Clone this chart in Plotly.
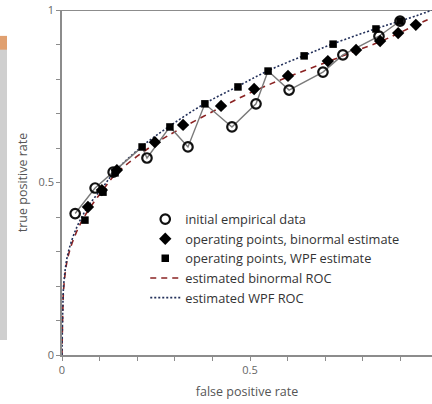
import plotly.graph_objects as go

# ---- data ----
emp_fpr = [0.035, 0.088, 0.136, 0.226, 0.335, 0.452, 0.516, 0.604, 0.694, 0.747, 0.843, 0.899]
emp_tpr = [0.410, 0.484, 0.530, 0.571, 0.603, 0.661, 0.728, 0.768, 0.820, 0.870, 0.924, 0.968]

# empirical polyline vertices (includes hidden vertices under the filled markers)
path_fpr = [0.035, 0.088, 0.136, 0.213, 0.226, 0.287, 0.335, 0.380, 0.452, 0.516, 0.548, 0.604, 0.694, 0.747, 0.843, 0.899]
path_tpr = [0.410, 0.484, 0.530, 0.603, 0.571, 0.661, 0.603, 0.728, 0.661, 0.728, 0.823, 0.768, 0.820, 0.870, 0.924, 0.968]

bin_fpr = [0.069, 0.106, 0.146, 0.247, 0.322, 0.423, 0.511, 0.601, 0.707, 0.782, 0.846, 0.894, 0.941]
bin_tpr = [0.429, 0.478, 0.536, 0.617, 0.667, 0.722, 0.771, 0.809, 0.852, 0.884, 0.910, 0.933, 0.957]

wpf_fpr = [0.061, 0.109, 0.141, 0.213, 0.287, 0.380, 0.468, 0.548, 0.644, 0.721, 0.835, 0.899]
wpf_tpr = [0.391, 0.472, 0.528, 0.603, 0.661, 0.728, 0.777, 0.823, 0.867, 0.901, 0.945, 0.968]

bin_roc_fpr = [0.0, 0.002, 0.005, 0.016, 0.040, 0.069, 0.106, 0.146, 0.247, 0.322, 0.423, 0.511, 0.601, 0.707, 0.782, 0.846, 0.894, 0.941, 0.984]
bin_roc_tpr = [0.0, 0.120, 0.200, 0.285, 0.360, 0.418, 0.474, 0.528, 0.612, 0.660, 0.718, 0.765, 0.806, 0.850, 0.882, 0.908, 0.932, 0.956, 0.978]

wpf_roc_fpr = [0.0, 0.002, 0.005, 0.016, 0.040, 0.069, 0.109, 0.141, 0.213, 0.287, 0.380, 0.468, 0.548, 0.644, 0.721, 0.835, 0.899, 0.950, 0.984]
wpf_roc_tpr = [0.0, 0.130, 0.210, 0.295, 0.372, 0.430, 0.487, 0.532, 0.605, 0.664, 0.729, 0.779, 0.824, 0.868, 0.902, 0.946, 0.968, 0.986, 1.0]

FONT = "Open Sans"
fig = go.Figure()

fig.add_trace(go.Scatter(x=bin_roc_fpr, y=bin_roc_tpr, mode="lines", line_shape="spline",
                         name="estimated binormal ROC",
                         line=dict(color="#8b2323", width=1.6, dash="6px,5px"), legendrank=4))
fig.add_trace(go.Scatter(x=wpf_roc_fpr, y=wpf_roc_tpr, mode="lines", line_shape="spline",
                         name="estimated WPF ROC",
                         line=dict(color="#23305a", width=1.6, dash="2px,2px"), legendrank=5))
fig.add_trace(go.Scatter(x=path_fpr, y=path_tpr, mode="lines", showlegend=False,
                         line=dict(color="#7a7a7a", width=1.4)))
fig.add_trace(go.Scatter(x=emp_fpr, y=emp_tpr, mode="markers", name="initial empirical data",
                         marker=dict(symbol="circle-open", size=9.5, color="#111",
                                     line=dict(width=2.2, color="#111")), legendrank=1))
fig.add_trace(go.Scatter(x=bin_fpr, y=bin_tpr, mode="markers", name="operating points, binormal estimate",
                         marker=dict(symbol="diamond", size=9.5, color="#000"), legendrank=2))
fig.add_trace(go.Scatter(x=wpf_fpr, y=wpf_tpr, mode="markers", name="operating points, WPF estimate",
                         marker=dict(symbol="square", size=7.5, color="#000"), legendrank=3))

fig.update_layout(
    width=432, height=404,
    margin=dict(l=62, r=0, t=10, b=49),
    paper_bgcolor="white", plot_bgcolor="white",
    font=dict(family=FONT, size=11, color="#555"),
    showlegend=True,
    legend=dict(x=0.225, y=0.437, xanchor="left", yanchor="top",
                bgcolor="rgba(0,0,0,0)", font=dict(size=12.8, color="#333"),
                tracegroupgap=0),
    xaxis=dict(range=[0, 0.984], showgrid=False, zeroline=False, automargin=False,
               showline=True, linecolor="#8c8c8c", linewidth=1.5,
               tickvals=[0, 0.5], ticktext=["0", "0.5"],
               ticks="outside", ticklen=4, tickcolor="#8c8c8c",
               minor=dict(tickvals=[0.1, 0.2, 0.3, 0.4, 0.6, 0.7, 0.8, 0.9],
                          ticks="outside", ticklen=4, tickcolor="#8c8c8c"),
               tickfont=dict(size=11, color="#666"),
               title=dict(text="false positive rate", font=dict(size=12.5, color="#555"), standoff=11)),
    yaxis=dict(range=[0, 1], showgrid=False, zeroline=False, automargin=False,
               showline=True, linecolor="#8c8c8c", linewidth=1.5,
               tickvals=[0, 0.5, 1], ticktext=["0", "0.5", "1"],
               ticks="outside", ticklen=4, tickcolor="#8c8c8c",
               minor=dict(tickvals=[0.1, 0.2, 0.3, 0.4, 0.6, 0.7, 0.8, 0.9],
                          ticks="outside", ticklen=4, tickcolor="#8c8c8c"),
               tickfont=dict(size=11, color="#666"),
               title=dict(text="true positive rate", font=dict(size=12.5, color="#555"), standoff=8)),
    shapes=[
        dict(type="line", xref="paper", yref="y", x0=0, x1=1, y0=1, y1=1,
             line=dict(color="#8c8c8c", width=2.2), layer="below"),
        dict(type="rect", xref="paper", yref="paper", x0=-0.1676, x1=-0.1486, y0=0.0435, y1=0.913,
             fillcolor="#cfcfcf", line=dict(width=0), layer="below"),
        dict(type="rect", xref="paper", yref="paper", x0=-0.1676, x1=-0.1486, y0=0.885, y1=0.925,
             fillcolor="#e0a070", line=dict(width=0), layer="below"),
    ],
)

fig.write_html("out.html", config={"displayModeBar": False},
               post_script="document.body.style.margin='0px';")
